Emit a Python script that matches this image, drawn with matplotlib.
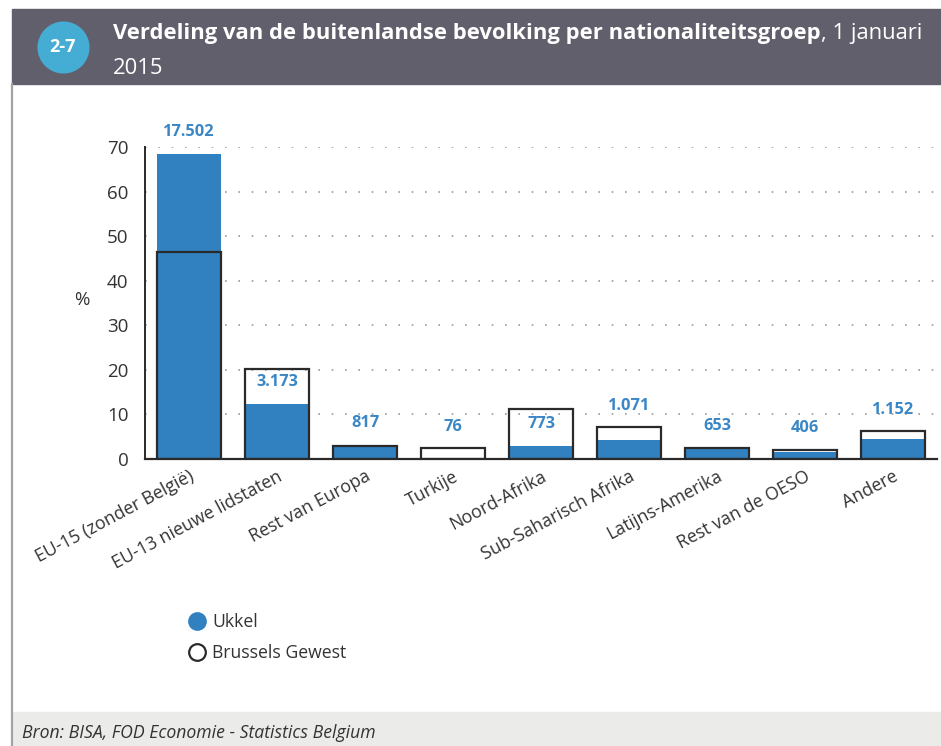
import matplotlib
matplotlib.use("Agg")
import matplotlib.pyplot as plt
import numpy as np
from matplotlib.lines import Line2D
from matplotlib.patches import Rectangle
from matplotlib.transforms import ScaledTranslation

plt.rcParams["font.family"] = ["Open Sans", "DejaVu Sans"]

# -----------------------------
# DATA
# -----------------------------
categories = [
    "EU-15 (zonder België)",
    "EU-13 nieuwe lidstaten",
    "Rest van Europa",
    "Turkije",
    "Noord-Afrika",
    "Sub-Saharisch Afrika",
    "Latijns-Amerika",
    "Rest van de OESO",
    "Andere",
]
ukkel = [68.5, 12.4, 3.2, 0.3, 3.0, 4.2, 2.6, 1.6, 4.5]
brussels = [46.5, 20.3, 3.0, 2.4, 11.2, 7.2, 2.5, 2.1, 6.3]
ukkel_count = ["17.502", "3.173", "817", "76", "773", "1.071", "653", "406", "1.152"]
yticks = [0, 10, 20, 30, 40, 50, 60, 70]

BLUE = "#3181c1"
LABEL_BLUE = "#3b87c6"
DARK = "#2a2a2a"
TXT = "#333333"
W, H = 941, 746

fig = plt.figure(figsize=(W / 100, H / 100), dpi=100)

# -----------------------------
# FRAME: header, left border, footer
# -----------------------------
fig.patches.append(Rectangle((12 / W, 1 - 84 / H), 1, 75 / H,
                             transform=fig.transFigure, color="#625f6c", zorder=0))
fig.patches.append(Rectangle((12 / W, 0), 1, 34 / H,
                             transform=fig.transFigure, color="#ebecea", zorder=0))
fig.add_artist(Line2D([12 / W, 12 / W], [0, 1 - 84 / H], transform=fig.transFigure,
                      color="#a3a3a3", lw=1.6))
fig.add_artist(Line2D([63 / W], [1 - 47 / H], transform=fig.transFigure, marker="o",
                      markersize=37.5, color="#45acd4", markeredgewidth=0))
fig.text(63 / W, 1 - 47 / H, "2-7", color="white", fontsize=13, fontweight="bold",
         ha="center", va="center")

t1 = fig.text(113 / W, 1 - 33 / H,
              "Verdeling van de buitenlandse bevolking per nationaliteitsgroep",
              color="white", fontsize=15.8, fontweight="bold", va="center")
fig.canvas.draw()
bb = t1.get_window_extent()
fig.text(bb.x1 / W, 1 - 33 / H, ", 1 januari", color="white", fontsize=15.8, va="center")
fig.text(113 / W, 1 - 68 / H, "2015", color="white", fontsize=15.8, va="center")

fig.text(22 / W, 1 - 733 / H, "Bron: BISA, FOD Economie - Statistics Belgium",
         fontsize=12.7, style="italic", color=TXT, va="center")

# -----------------------------
# CHART
# -----------------------------
ax = fig.add_axes([145 / W, 1 - 459 / H, 792 / W, 312 / H])
x = np.arange(len(categories))
bw = 0.73

ax.bar(x, ukkel, width=bw, color=BLUE, zorder=2)
ax.bar(x, brussels, width=bw, facecolor="none", edgecolor=DARK, linewidth=1.6, zorder=3)

for xi, u, b, lab in zip(x, ukkel, brussels, ukkel_count):
    base = max(u, b) if b - u < 4 else u
    ax.text(xi, base + 4.8, lab, ha="center", va="center", color=LABEL_BLUE,
            fontsize=11.8, fontweight="bold")

ax.set_xlim(-0.5, len(categories) - 0.5)
ax.set_ylim(0, 70)
ax.set_yticks(yticks)
ax.yaxis.grid(True, linestyle=(0, (1, 7)), color="#9a9a9a", linewidth=1.2, zorder=1)
ax.set_axisbelow(True)

ax.set_xticks(x)
ax.set_xticklabels(categories, rotation=28, ha="right", va="top", rotation_mode="anchor")
for lbl in ax.get_xticklabels():
    lbl.set_transform(lbl.get_transform() + ScaledTranslation(10 / 72, 0, fig.dpi_scale_trans))
ax.tick_params(axis="x", length=0, pad=6, labelsize=12.8, labelcolor=TXT)
ax.tick_params(axis="y", length=0, pad=12, labelsize=13.5, labelcolor=TXT)

for s in ["top", "right"]:
    ax.spines[s].set_visible(False)
ax.spines["left"].set_color(DARK)
ax.spines["bottom"].set_color(DARK)
ax.spines["left"].set_linewidth(1.4)
ax.spines["bottom"].set_linewidth(1.6)

fig.text(82 / W, 1 - 300 / H, "%", fontsize=13.5, color=TXT, ha="center", va="center")

# -----------------------------
# LEGEND
# -----------------------------
handles = [
    Line2D([], [], marker="o", linestyle="none", markersize=13.5, color=BLUE, markeredgewidth=0),
    Line2D([], [], marker="o", linestyle="none", markersize=12, markerfacecolor="white",
           markeredgecolor=DARK, markeredgewidth=1.6),
]
fig.legend(handles, ["Ukkel", "Brussels Gewest"], loc="upper left",
           bbox_to_anchor=(178 / W, 1 - 604 / H), frameon=False, fontsize=12.7,
           handletextpad=0.25, labelspacing=0.75, borderpad=0, handlelength=1.2,
           labelcolor=TXT)

fig.savefig("out.png", dpi=100)
